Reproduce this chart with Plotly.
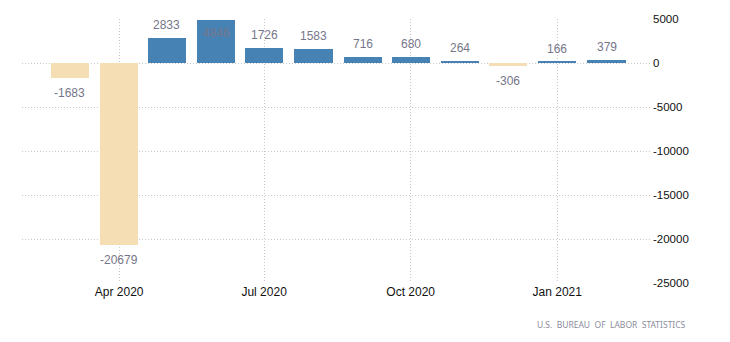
import plotly.graph_objects as go

# Monthly change in US nonfarm payrolls (thousands)
months = ["2020-03-01", "2020-04-01", "2020-05-01", "2020-06-01", "2020-07-01",
          "2020-08-01", "2020-09-01", "2020-10-01", "2020-11-01", "2020-12-01",
          "2021-01-01", "2021-02-01"]
changes = [-1683, -20679, 2833, 4846, 1726, 1583, 716, 680, 264, -306, 166, 379]

tick_dates = ["2020-04-01", "2020-07-01", "2020-10-01", "2021-01-01"]
tick_labels = ["Apr 2020", "Jul 2020", "Oct 2020", "Jan 2021"]
y_ticks = [5000, 0, -5000, -10000, -15000, -20000, -25000]
y_tick_labels = ["5000", "0", "-5000", "-10000", "-15000", "-20000", "-25000"]

POS = "#4682B4"
NEG = "#F5DEB3"
FONT = "Liberation Sans, Arial, sans-serif"
DAY_MS = 86400000
Y_MAX, Y_MIN = 5000, -25000
GRID = dict(showgrid=True, gridcolor="#c8c8c8", griddash="1px,2px", gridwidth=1)

fig = go.Figure()
fig.add_trace(go.Bar(
    x=months,
    y=changes,
    width=[24 * DAY_MS] * len(months),
    marker=dict(color=[POS if v >= 0 else NEG for v in changes], line=dict(width=0)),
    hoverinfo="x+y",
))

# value labels: above positive bars, below negative ones; tucked inside when near the top
for d, v in zip(months, changes):
    if v >= 0:
        if v > Y_MAX - 1000:
            anchor, shift = "top", -4
        else:
            anchor, shift = "bottom", 4
    else:
        anchor, shift = "top", -6
    fig.add_annotation(
        x=d, y=v, text=str(v), showarrow=False,
        yanchor=anchor, yshift=shift,
        font=dict(family=FONT, size=12, color="#76768a"),
    )

fig.add_annotation(
    xref="paper", yref="paper", x=1.057, y=-0.159,
    xanchor="right", yanchor="middle", showarrow=False,
    text="U.S.\u00a0 BUREAU\u00a0 OF\u00a0 LABOR\u00a0 STATISTICS",
    font=dict(family="Noto Sans", size=8.5, color="#8c8c9c"),
)

fig.update_layout(
    width=730, height=342,
    margin=dict(l=22, r=78, t=19, b=59),
    plot_bgcolor="white", paper_bgcolor="white",
    showlegend=False,
    bargap=0,
    font=dict(family=FONT, size=12, color="#111"),
    xaxis=dict(
        type="date",
        range=["2020-01-31", "2021-03-01 12:00"],
        tickvals=tick_dates, ticktext=tick_labels,
        showline=False, zeroline=False, ticks="",
        tickfont=dict(family=FONT, size=12, color="#111"),
        **GRID,
    ),
    yaxis=dict(
        side="right",
        range=[Y_MIN, Y_MAX],
        tickvals=y_ticks, ticktext=y_tick_labels,
        zeroline=False, showline=False, ticks="",
        tickfont=dict(family=FONT, size=11.5, color="#111"),
        **GRID,
    ),
)

fig.write_html("out.html")
